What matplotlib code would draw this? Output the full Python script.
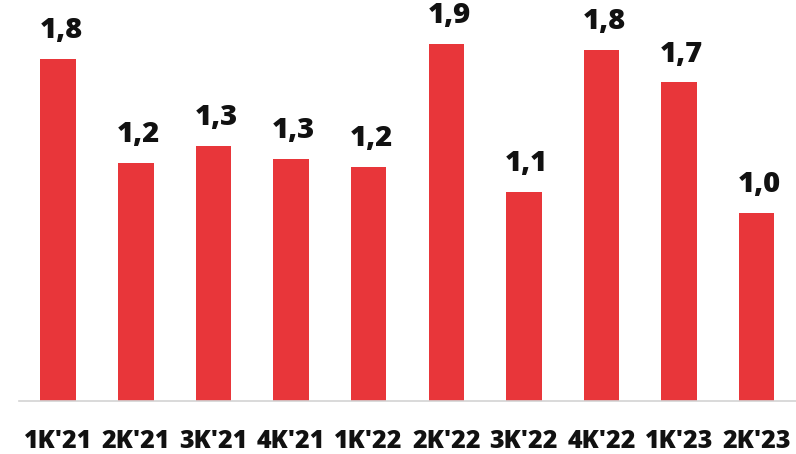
import matplotlib
matplotlib.use("Agg")
import matplotlib.pyplot as plt
from matplotlib import font_manager as fm

categories = ["1K'21", "2K'21", "3K'21", "4K'21", "1K'22", "2K'22", "3K'22", "4K'22", "1K'23", "2K'23"]
values = [1.78, 1.24, 1.33, 1.26, 1.22, 1.86, 1.09, 1.83, 1.66, 0.98]

BAR_COLOR = "#e8363a"
FONT = ["Open Sans", "DejaVu Sans"]
print(sorted({(f.name, f.weight) for f in fm.fontManager.ttflist if f.name in ("Open Sans", "Inter", "Roboto", "Lato", "Noto Sans")}))

fig = plt.figure(figsize=(7.96, 4.54), dpi=100)
ax = fig.add_axes([0.0244, 0.1167, 0.975, 0.8833])

x = list(range(len(categories)))
bars = ax.bar(x, values, width=0.457, color=BAR_COLOR, edgecolor="none")

for xi, v in zip(x, values):
    ax.annotate(f"{v:.1f}".replace(".", ","), xy=(xi, v), xytext=(2, 15),
                textcoords="offset points", ha="center", va="baseline",
                fontsize=21, fontweight=800, family=FONT, color="#111111")

ax.set_xlim(-0.5, len(categories) - 0.5)
ax.set_ylim(0, 2.089)
ax.set_xticks(x)
ax.set_xticklabels(categories, fontsize=18, fontweight=800, family=FONT, color="#111111")
ax.tick_params(axis="x", length=0, pad=20)
ax.set_yticks([])
for s in ["top", "left", "right"]:
    ax.spines[s].set_visible(False)
ax.spines["bottom"].set_color("#d3d3d3")
ax.spines["bottom"].set_linewidth(1.2)

fig.savefig("out.png", dpi=100)
